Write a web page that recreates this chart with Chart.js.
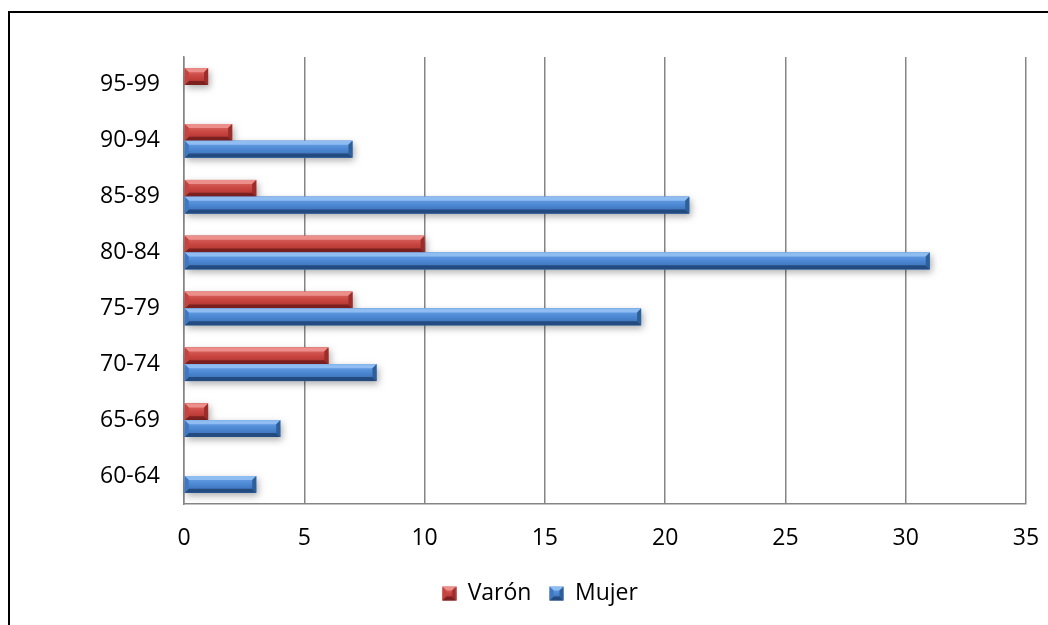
<!DOCTYPE html>
<html>
<head>
<meta charset="utf-8">
<script src="https://cdn.jsdelivr.net/npm/chart.js@4.4.1/dist/chart.umd.min.js"></script>
<style>
  html, body { margin: 0; padding: 0; background: #fff; overflow: hidden; }
  #wrap { position: relative; width: 1048px; height: 625px; overflow: hidden; }
  #frame { position: absolute; left: 8px; top: 11px; width: 1100px; height: 700px;
           border-left: 2px solid #000; border-top: 2px solid #000; pointer-events: none; }
  canvas { position: absolute; left: 0; top: 0; }
</style>
</head>
<body>
<div id="wrap">
  <canvas id="chart" width="1048" height="625"></canvas>
  <div id="frame"></div>
</div>
<script>
// Age groups, listed top to bottom as they appear on the axis
const ageGroups = ['95-99', '90-94', '85-89', '80-84', '75-79', '70-74', '65-69', '60-64'];
const varon = [1, 2, 3, 10, 7, 6, 1, 0];
const mujer = [0, 7, 21, 31, 19, 8, 4, 3];
const xMin = 0, xMax = 35, xStep = 5;

const FONT = { family: "'Open Sans', 'Noto Sans', sans-serif", size: 23 };
const GRID = '#858585';

// Bevel palettes for the 3D-style bars
const palettes = [
  { base: '#c0504d', hi: '#de6e6a', face: '#c94541', low: '#a8302e',
    top: '#ec8f8b', bottom: '#7c2120', right: '#9b2d2b', left: '#c24440' },
  { base: '#4f81bd', hi: '#6ea6ea', face: '#4c87d3', low: '#3869ac',
    top: '#8fbdf2', bottom: '#244b80', right: '#2f5f98', left: '#3f78c0' }
];

function poly(ctx, pts, color) {
  ctx.beginPath();
  ctx.moveTo(pts[0][0], pts[0][1]);
  for (let i = 1; i < pts.length; i++) ctx.lineTo(pts[i][0], pts[i][1]);
  ctx.closePath();
  ctx.fillStyle = color;
  ctx.fill();
}

function bevelRect(ctx, L, R, T, B, pal, shadow) {
  const w = R - L, h = B - T;
  if (w < 0.5 || h < 0.5) return;
  const b = Math.min(4, w / 2, h / 2);
  if (shadow) {
    ctx.save();
    ctx.shadowColor = 'rgba(0,0,0,0.32)';
    ctx.shadowBlur = 7;
    ctx.shadowOffsetX = 2;
    ctx.shadowOffsetY = 3;
    ctx.fillStyle = pal.face;
    ctx.fillRect(L, T, w, h);
    ctx.restore();
  }
  const g = ctx.createLinearGradient(0, T, 0, B);
  g.addColorStop(0, pal.hi);
  g.addColorStop(0.5, pal.face);
  g.addColorStop(1, pal.low);
  ctx.fillStyle = g;
  ctx.fillRect(L, T, w, h);
  poly(ctx, [[L, T], [R, T], [R - b, T + b], [L + b, T + b]], pal.top);
  poly(ctx, [[L, B], [R, B], [R - b, B - b], [L + b, B - b]], pal.bottom);
  poly(ctx, [[R, T], [R, B], [R - b, B - b], [R - b, T + b]], pal.right);
  poly(ctx, [[L, T], [L, B], [L + b, B - b], [L + b, T + b]], pal.left);
}

// Small beveled squares for the legend
function legendIcon(pal) {
  const c = document.createElement('canvas');
  c.width = 15; c.height = 15;
  bevelRect(c.getContext('2d'), 0.5, 14.5, 0.5, 14.5, pal, false);
  return c;
}
const icons = palettes.map(legendIcon);

// Repaints each bar element with a beveled, shaded face
const bevelBars = {
  id: 'bevelBars',
  afterDatasetsDraw(chart) {
    const ctx = chart.ctx;
    chart.getSortedVisibleDatasetMetas().forEach(meta => {
      const pal = palettes[meta.index];
      meta.data.forEach(el => {
        const p = el.getProps(['x', 'y', 'base', 'height'], true);
        const L = Math.min(p.x, p.base), R = Math.max(p.x, p.base);
        const T = p.y - p.height / 2, B = p.y + p.height / 2;
        bevelRect(ctx, L, R, T, B, pal, true);
      });
    });
  }
};

// Centres the legend row under the frame
const legendShift = {
  id: 'legendShift',
  afterLayout(chart) {
    const lg = chart.legend;
    if (!lg) return;
    const d = 540 - (lg.left + lg.right) / 2;
    lg.left += d;
    lg.right += d;
  }
};

new Chart(document.getElementById('chart'), {
  type: 'bar',
  data: {
    labels: ageGroups,
    datasets: [
      { label: 'Varón', data: varon, backgroundColor: palettes[0].base },
      { label: 'Mujer', data: mujer, backgroundColor: palettes[1].base }
    ]
  },
  options: {
    indexAxis: 'y',
    responsive: false,
    animation: false,
    events: [],
    categoryPercentage: 0.6,
    barPercentage: 1.0,
    layout: { padding: { left: 0, top: 57, right: 22, bottom: 10 } },
    scales: {
      x: {
        min: xMin, max: xMax,
        ticks: { stepSize: xStep, padding: 21, color: '#000', font: FONT },
        grid: { color: GRID, lineWidth: 1.5, drawTicks: false },
        border: { color: GRID, width: 1.5 },
        afterFit(scale) {
          scale.height = 60;
          scale.paddingLeft = 0;
          scale.paddingRight = 0;
        }
      },
      y: {
        ticks: { padding: 24, color: '#000', font: FONT },
        grid: { display: false, drawTicks: false },
        border: { color: GRID, width: 1.5 },
        afterFit(scale) { scale.width = 184; }
      }
    },
    plugins: {
      tooltip: { enabled: false },
      legend: {
        position: 'bottom',
        labels: {
          color: '#000',
          font: FONT,
          padding: 18,
          boxWidth: 14,
          boxHeight: 14,
          usePointStyle: true,
          generateLabels(chart) {
            return Chart.defaults.plugins.legend.labels.generateLabels(chart).map((item, i) => {
              item.pointStyle = icons[i];
              return item;
            });
          }
        }
      }
    }
  },
  plugins: [bevelBars, legendShift]
});
</script>
</body>
</html>
